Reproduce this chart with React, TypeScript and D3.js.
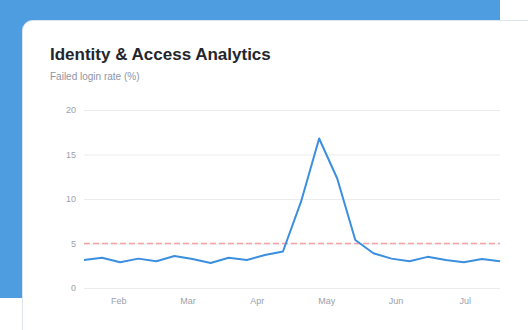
import React, { useEffect, useRef } from 'react';
import * as d3 from 'd3';

// weekly failed login rate (%), 4 points per month
const rates = [3.15, 3.4, 2.9, 3.3, 3.0, 3.6, 3.25, 2.8, 3.4, 3.15, 3.7, 4.1,
  9.7, 16.8, 12.3, 5.4, 3.9, 3.3, 3.0, 3.5, 3.15, 2.9, 3.25, 3.0];
const months = ['Feb', 'Mar', 'Apr', 'May', 'Jun', 'Jul'];
const yTicks = [0, 5, 10, 15, 20];
const threshold = 5;

const App = () => {
  const ref = useRef<SVGSVGElement>(null);

  useEffect(() => {
    const width = 528;
    const height = 330;
    const plot = { left: 84, right: 500, top: 110, bottom: 288 };
    const font = '"Liberation Sans", Arial, Helvetica, sans-serif';

    const svg = d3.select(ref.current);
    svg.selectAll('*').remove();
    svg.attr('width', width).attr('height', height);

    // backdrop + card
    svg.append('rect')
      .attr('x', -20).attr('y', -20)
      .attr('width', 520).attr('height', 318)
      .attr('rx', 10)
      .attr('fill', '#4d9de0');

    svg.append('rect')
      .attr('x', 22.5).attr('y', 20.5)
      .attr('width', 540).attr('height', 340)
      .attr('rx', 10)
      .attr('fill', '#ffffff')
      .attr('stroke', '#dfe5ee');

    svg.append('text')
      .attr('x', 50).attr('y', 60)
      .style('font-family', font)
      .style('font-size', '17px')
      .style('font-weight', 'bold')
      .attr('fill', '#23262d')
      .text('Identity & Access Analytics');

    svg.append('text')
      .attr('x', 50).attr('y', 80)
      .style('font-family', font)
      .style('font-size', '10px')
      .attr('fill', '#8f94a6')
      .text('Failed login rate (%)');

    const yScale = d3.scaleLinear()
      .domain([0, 20])
      .range([plot.bottom, plot.top]);

    const xScale = d3.scaleLinear()
      .domain([0, rates.length - 1])
      .range([plot.left, plot.right]);

    const monthScale = d3.scaleBand()
      .domain(months)
      .range([plot.left, plot.right]);

    // grid + y labels
    const yAxis = svg.append('g')
      .attr('transform', `translate(${plot.left}, 0)`)
      .call(d3.axisLeft(yScale)
        .tickValues(yTicks)
        .tickSize(-(plot.right - plot.left))
        .tickPadding(8));
    yAxis.select('.domain').remove();
    yAxis.selectAll('.tick line').attr('stroke', '#ececef');
    yAxis.selectAll('.tick text')
      .attr('fill', '#9a9fae')
      .style('font-family', font)
      .style('font-size', '9px');

    const xAxis = svg.append('g')
      .attr('transform', `translate(0, ${plot.bottom})`)
      .call(d3.axisBottom(monthScale).tickSize(0).tickPadding(10));
    xAxis.select('.domain').remove();
    xAxis.selectAll('.tick text')
      .attr('fill', '#9a9fae')
      .style('font-family', font)
      .style('font-size', '9px');

    svg.append('line')
      .attr('x1', plot.left).attr('x2', plot.right)
      .attr('y1', yScale(threshold)).attr('y2', yScale(threshold))
      .attr('stroke', '#f2a3a2')
      .attr('stroke-width', 1.5)
      .attr('stroke-dasharray', '6,3');

    const line = d3.line<number>()
      .x((_, i) => xScale(i))
      .y(d => yScale(d));

    svg.append('path')
      .datum(rates)
      .attr('d', line)
      .attr('fill', 'none')
      .attr('stroke', '#3b8fde')
      .attr('stroke-width', 2)
      .attr('stroke-linejoin', 'round');
  }, []);

  return (
    <svg ref={ref} style={{ position: 'absolute', left: 0, top: 0, display: 'block' }} />
  );
};

export default App;
